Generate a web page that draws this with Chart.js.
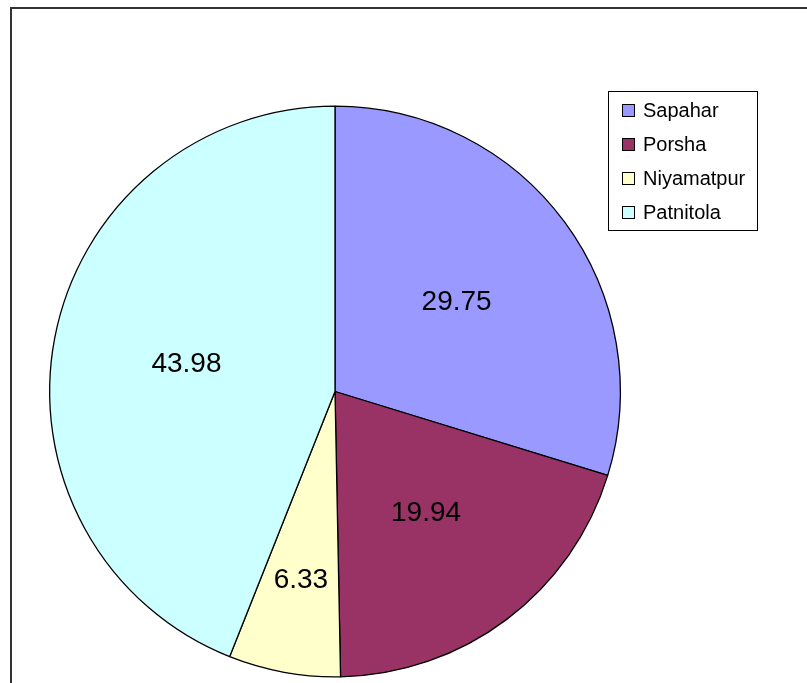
<!DOCTYPE html>
<html>
<head>
<meta charset="utf-8">
<script src="https://cdn.jsdelivr.net/npm/chart.js@4/dist/chart.umd.min.js"></script>
<style>
  html, body { margin: 0; padding: 0; background: #fff; }
  #wrap { width: 807px; height: 683px; position: relative; }
</style>
</head>
<body>
<div id="wrap"><canvas id="pie"></canvas></div>
<script>
// data
var upazilas = ['Sapahar', 'Porsha', 'Niyamatpur', 'Patnitola'];
var shares = [29.75, 19.94, 6.33, 43.98];
var colours = ['#9999FF', '#993366', '#FFFFCC', '#CCFFFF'];

// frame + slice labels + legend box, drawn by hand like the excel export
var excelBits = {
    id: 'excelBits',
    beforeDraw: function (chart) {
        var c = chart.ctx;
        c.save();
        c.strokeStyle = '#333';
        c.lineWidth = 2;
        c.beginPath();
        c.moveTo(11, 700);
        c.lineTo(11, 8);
        c.lineTo(820, 8);
        c.stroke();
        c.restore();
    },
    afterDraw: function (chart) {
        var c = chart.ctx;
        var meta = chart.getDatasetMeta(0);
        c.save();
        // labels inside slices
        c.fillStyle = '#000';
        c.font = '28px "Liberation Sans", Arial, sans-serif';
        c.textAlign = 'center';
        c.textBaseline = 'middle';
        meta.data.forEach(function (arc, i) {
            var mid = (arc.startAngle + arc.endAngle) / 2;
            var f = shares[i] < 10 ? 0.67 : 0.53;
            var x = arc.x + Math.cos(mid) * arc.outerRadius * f;
            var y = arc.y + Math.sin(mid) * arc.outerRadius * f;
            c.fillText(shares[i].toFixed(2), x, y + 1);
        });

        // legend
        c.strokeStyle = '#000';
        c.lineWidth = 1;
        c.strokeRect(608.5, 91.5, 149, 139);
        c.font = '20px "Liberation Sans", Arial, sans-serif';
        c.textAlign = 'left';
        upazilas.forEach(function (name, i) {
            var cy = 110.5 + i * 34;
            c.fillStyle = colours[i];
            c.fillRect(622.5, cy - 6, 12, 12);
            c.strokeRect(622.5, cy - 6, 12, 12);
            c.fillStyle = '#000';
            c.fillText(name, 643, cy + 1);
        });
        c.restore();
    }
};

var ctx = document.getElementById('pie');
var chartPie = new Chart(ctx, {
    type: 'pie',
    data: {
        labels: upazilas,
        datasets: [{
            data: shares,
            backgroundColor: colours,
            borderColor: '#000',
            borderWidth: 1.3
        }]
    },
    options: {
        responsive: true,
        maintainAspectRatio: false,
        animation: false,
        layout: { padding: { left: 49, right: 186, top: 105, bottom: 5 } },
        plugins: {
            legend: { display: false },
            tooltip: { enabled: false }
        }
    },
    plugins: [excelBits]
});
</script>
</body>
</html>
